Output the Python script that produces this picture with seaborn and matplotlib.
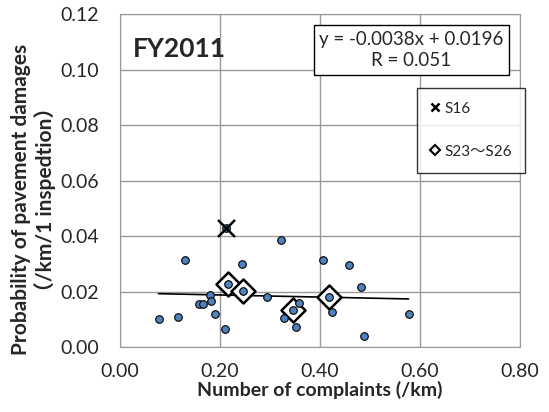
import matplotlib
matplotlib.use("Agg")
import matplotlib.pyplot as plt
import seaborn as sns
import numpy as np
import pandas as pd
from matplotlib.lines import Line2D

complaints = [0.077, 0.115, 0.129, 0.158, 0.165, 0.179, 0.181, 0.189, 0.209, 0.215,
              0.212, 0.243, 0.246, 0.293, 0.322, 0.327, 0.345, 0.351, 0.357, 0.405,
              0.417, 0.423, 0.457, 0.481, 0.488, 0.577]
damages = [0.0101, 0.0108, 0.0313, 0.0157, 0.0155, 0.0188, 0.0168, 0.0120, 0.0066, 0.0228,
           0.0429, 0.0299, 0.0203, 0.0182, 0.0385, 0.0107, 0.0134, 0.0072, 0.0158, 0.0313,
           0.0182, 0.0127, 0.0295, 0.0217, 0.0041, 0.0120]
s16_x = [0.212]
s16_y = [0.0429]
s23_x = [0.215, 0.246, 0.345, 0.417]
s23_y = [0.0228, 0.0203, 0.0134, 0.0182]
slope, intercept = -0.0038, 0.0196
xticks = [0.0, 0.2, 0.4, 0.6, 0.8]
yticks = [0.0, 0.02, 0.04, 0.06, 0.08, 0.10, 0.12]

sns.set_style("white")
plt.rcParams['font.family'] = ['Lato', 'Noto Sans CJK JP', 'DejaVu Sans']

fig = plt.figure(figsize=(5.49, 4.12), dpi=100)
ax = fig.add_axes([120/549, 1-347.3/412, 400/549, (347.3-14)/412])

df = pd.DataFrame({"x": complaints, "y": damages})
xs = np.array([min(complaints), max(complaints)])
ax.plot(xs, slope*xs + intercept, color="black", lw=1.2, zorder=2)
sns.scatterplot(data=pd.DataFrame({"x": s23_x, "y": s23_y}), x="x", y="y", ax=ax,
                marker="D", s=150, facecolor="white", edgecolor="black", linewidth=1.8, zorder=3)
sns.scatterplot(data=df, x="x", y="y", ax=ax, s=30, color="#4F81BD",
                edgecolor="black", linewidth=0.8, zorder=4)
sns.scatterplot(data=pd.DataFrame({"x": s16_x, "y": s16_y}), x="x", y="y", ax=ax,
                marker="x", s=150, color="black", linewidth=1.8, zorder=5)

ax.set_xlim(0, 0.8)
ax.set_ylim(0, 0.12)
ax.set_xticks(xticks)
ax.set_yticks(yticks)
ax.set_xticklabels([f"{t:.2f}" for t in xticks], fontsize=14)
ax.set_yticklabels([f"{t:.2f}" for t in yticks], fontsize=14)
ax.grid(True, color="#999999", lw=1)
ax.set_axisbelow(True)
for sp in ax.spines.values():
    sp.set_color("#999999")
ax.tick_params(axis="y", length=0, pad=15)
ax.tick_params(axis="x", length=0, pad=11)
ax.set_xlabel("Number of complaints (/km)", fontsize=14, fontweight="bold", labelpad=1)
ax.set_ylabel("")
fig.text(21/549, 1-199/412, "Probability of pavement damages", rotation=90,
         ha="center", va="center", fontsize=15, fontweight="bold")
fig.text(45/549, 1-199/412, "（/km/1 inspedtion）", rotation=90,
         ha="center", va="center", fontsize=15, fontweight="bold")

ax.text(0.032, 0.895, "FY2011", transform=ax.transAxes, fontsize=19, fontweight="bold",
        va="center", ha="left", zorder=6)
ax.text((312.7+510)/2/549, 1-50/412, "y = -0.0038x + 0.0196\nR = 0.051",
        transform=fig.transFigure, ha="center", va="center", fontsize=13.5, linespacing=1.35,
        bbox=dict(boxstyle="square,pad=0.3", fc="white", ec="black", lw=1), zorder=6)

handles = [Line2D([], [], marker="x", color="black", ls="none", markersize=6, mew=1.8),
           Line2D([], [], marker="D", mfc="white", mec="black", ls="none", markersize=5, mew=1.5)]
leg = ax.legend(handles, ["S16", "S23〜S26"], loc="upper left",
                bbox_to_anchor=(416.7/549, 1-88/412), bbox_transform=fig.transFigure,
                frameon=True, fancybox=False, fontsize=11, labelspacing=1.9,
                handlelength=0.6, handletextpad=0.3, borderpad=0.9, borderaxespad=0)
leg.get_frame().set_edgecolor("black")
leg.get_frame().set_linewidth(1)
leg.set_zorder(7)

fig.savefig("out.png", dpi=100)
